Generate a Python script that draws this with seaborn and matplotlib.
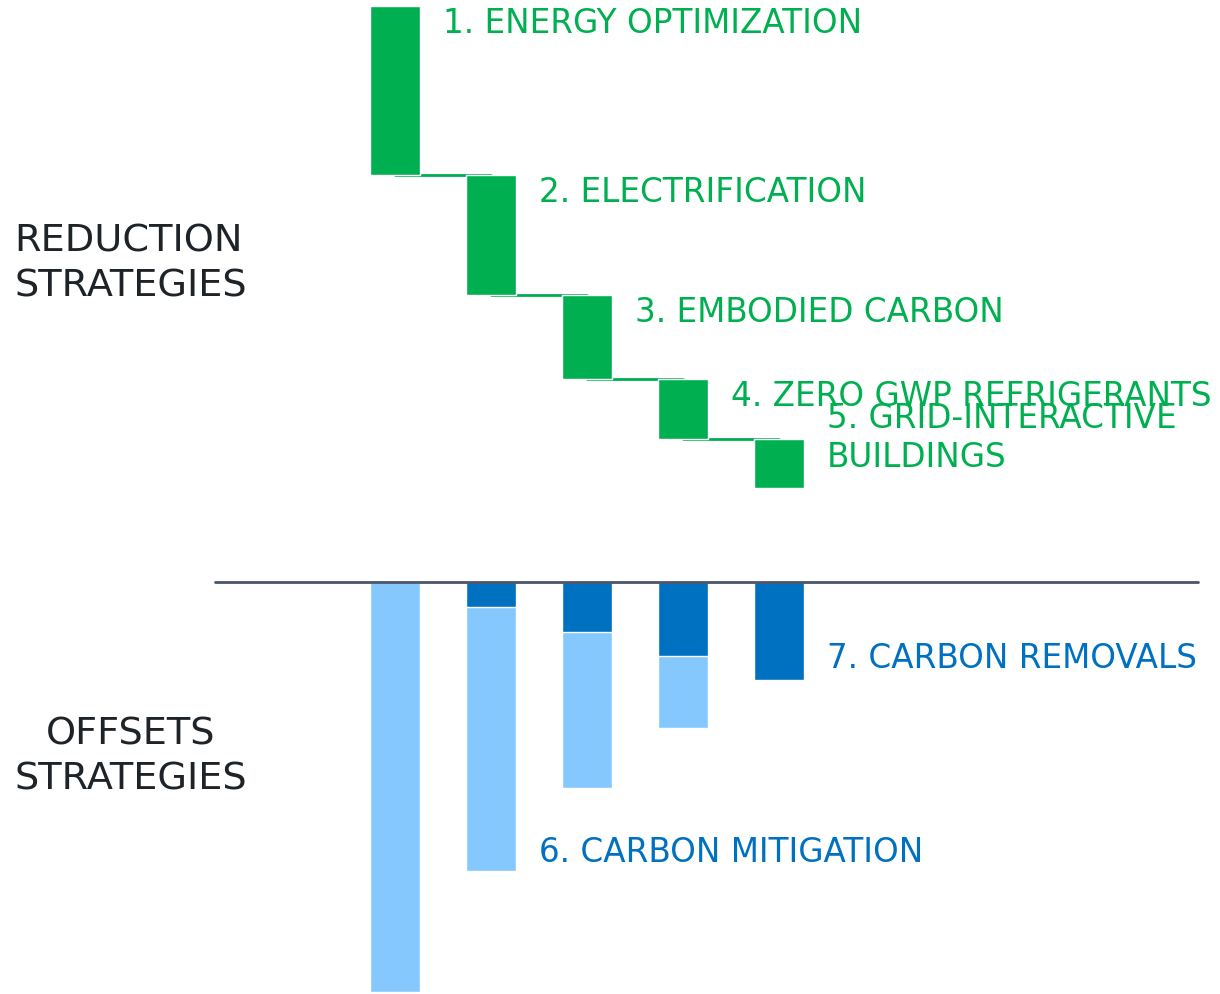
import numpy as np
import seaborn as sns
import matplotlib.pyplot as plt

# Carbon pathway values (arbitrary units, baseline = 0)
start_level = 57.6
reduction_labels = ["1. ENERGY OPTIMIZATION", "2. ELECTRIFICATION", "3. EMBODIED CARBON",
                    "4. ZERO GWP REFRIGERANTS", "5. GRID-INTERACTIVE\nBUILDINGS"]
reductions = [16.9, 12.0, 8.4, 6.0, 4.9]

offset_steps = ["1", "2", "3", "4", "5"]
removals = [0.0, 2.5, 5.0, 7.4, 9.8]        # carbon removals (dark blue)
mitigation = [41.0, 26.4, 15.6, 7.2, 0.0]   # carbon mitigation (light blue)

green = "#00b050"
dark_blue = "#0070c0"
light_blue = "#85c8fe"
text_dark = "#1e2328"

sns.set_theme(style="white")
plt.rcParams["font.family"] = ["DejaVu Sans"]

fig = plt.figure(figsize=(12.2, 9.94), dpi=100)
ax = fig.add_axes([0, 0, 1, 1])

# offsets: total first (light), removals over it (dark)
totals = np.array(removals) + np.array(mitigation)
sns.barplot(x=offset_steps, y=-totals, color=light_blue, width=0.52, saturation=1, ax=ax, zorder=2)
sns.barplot(x=offset_steps, y=-np.array(removals), color=dark_blue, width=0.52, saturation=1, ax=ax, zorder=3)

# reduction waterfall
tops = start_level - np.concatenate([[0], np.cumsum(reductions)[:-1]])
bottoms = tops - np.array(reductions)
xs = np.arange(len(reductions))
ax.bar(xs, -np.array(reductions), bottom=tops, width=0.52, color=green, zorder=3)
for i in range(len(xs) - 1):
    ax.plot([xs[i], xs[i + 1]], [bottoms[i], bottoms[i]], color=green, lw=2, zorder=2)

# labels for reductions
for i, lab in enumerate(reduction_labels):
    if "\n" in lab:
        ax.text(xs[i] + 0.5, tops[i] + 0.1, lab, color=green, fontsize=23.5, va="center", ha="left",
                linespacing=1.25)
    else:
        ax.text(xs[i] + 0.5, tops[i] - 1.75, lab, color=green, fontsize=23.5, va="center", ha="left")

# labels for offsets
ax.text(1.5, -totals[1] + 1.9, "6. CARBON MITIGATION", color=dark_blue, fontsize=23.5, va="center", ha="left")
ax.text(4.5, -removals[4] + 2.1, "7. CARBON REMOVALS", color=dark_blue, fontsize=23.5, va="center", ha="left")

# baseline
ax.plot([-1.875, 8.365], [0, 0], color="#4a5568", lw=2, zorder=4)

# section titles
ax.text(-2.75, 31.8, "REDUCTION\nSTRATEGIES", color=text_dark, fontsize=27.5, ha="center", va="center",
        multialignment="left", linespacing=1.32)
ax.text(-2.75, -17.5, "OFFSETS\nSTRATEGIES", color=text_dark, fontsize=27.5, ha="center", va="center",
        multialignment="center", linespacing=1.32)

ax.set_xlim(-4.115, 8.594)
ax.set_ylim(-41.2, 58.2)
ax.axis("off")

fig.savefig("out.png", dpi=100)
